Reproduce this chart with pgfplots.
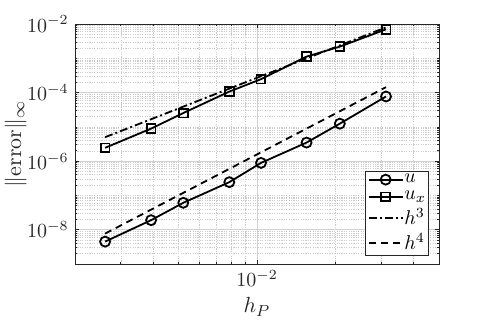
\documentclass[border=0pt]{standalone}
\usepackage{pgfplots}
\pgfplotsset{compat=1.18}
\definecolor{axgray}{RGB}{38,38,38}

\begin{document}
\begin{tikzpicture}
\begin{axis}[
  name=ax,
  xmode=log, ymode=log,
  width=182pt, height=120pt, scale only axis,
  xmin=2e-3, xmax=5e-2, ymin=1e-9, ymax=1e-2,
  xtick={1e-2}, ytick={1e-8,1e-6,1e-4,1e-2},
  minor xtick={2e-3,3e-3,4e-3,5e-3,6e-3,7e-3,8e-3,9e-3,2e-2,3e-2,4e-2},
  minor ytick={2e-9,3e-9,4e-9,5e-9,6e-9,7e-9,8e-9,9e-9,
    2e-8,3e-8,4e-8,5e-8,6e-8,7e-8,8e-8,9e-8,1e-7,
    2e-7,3e-7,4e-7,5e-7,6e-7,7e-7,8e-7,9e-7,
    2e-6,3e-6,4e-6,5e-6,6e-6,7e-6,8e-6,9e-6,1e-5,
    2e-5,3e-5,4e-5,5e-5,6e-5,7e-5,8e-5,9e-5,
    2e-4,3e-4,4e-4,5e-4,6e-4,7e-4,8e-4,9e-4,1e-3,
    2e-3,3e-3,4e-3,5e-3,6e-3,7e-3,8e-3,9e-3},
  grid=both,
  major grid style={black!18, line width=0.4pt},
  minor grid style={black!20, dash pattern=on 0.6pt off 0.6pt, line width=0.3pt},
  tick align=inside, major tick length=2pt, minor tick length=1.2pt,
  axis line style={axgray, line width=0.4pt},
  every tick/.style={axgray, line width=0.35pt},
  tick label style={color=axgray, font=\fontsize{10}{12}\selectfont},
  xticklabel style={inner sep=1pt, yshift=-2pt},
  yticklabel style={inner sep=1pt, xshift=-2pt},
  xlabel={$h_P$}, ylabel={$\|\mathrm{error}\|_\infty$},
  every axis x label/.style={at={(axis description cs:0.5,-0.178)}, anchor=center,
    inner sep=0pt, color=axgray, font=\fontsize{11}{13}\selectfont},
  every axis y label/.style={at={(axis description cs:-0.163,0.5)}, anchor=center,
    inner sep=0pt, rotate=90, color=axgray, font=\fontsize{11}{13}\selectfont},
  legend cell align=left,
  legend style={at={(axis description cs:0.973,0.035)}, anchor=south east,
    draw=axgray, line width=0.4pt, font=\fontsize{10}{12}\selectfont,
    inner sep=1pt, row sep=2pt, nodes={inner sep=0.4pt}},
]
\addplot[black, line width=0.9pt, mark=o, mark size=2.5pt] coordinates {
  (2.61e-3,4.5e-9) (3.92e-3,1.9e-8) (5.21e-3,6.1e-8) (7.83e-3,2.44e-7)
  (1.036e-2,8.9e-7) (1.55e-2,3.48e-6) (2.08e-2,1.24e-5) (3.13e-2,7.7e-5)};
\addlegendentry{$u$}
\addplot[black, line width=0.9pt, mark=square, mark size=2.2pt] coordinates {
  (2.61e-3,2.45e-6) (3.92e-3,8.9e-6) (5.21e-3,2.53e-5) (7.83e-3,1.07e-4)
  (1.036e-2,2.46e-4) (1.55e-2,1.12e-3) (2.08e-2,2.19e-3) (3.13e-2,7.0e-3)};
\addlegendentry{$u_x$}
\addplot[black, line width=0.9pt, dash pattern=on 4pt off 1.5pt on 1pt off 1.5pt] coordinates {
  (2.61e-3,5.0e-6) (3.13e-2,8.0e-3)};
\addlegendentry{$h^3$}
\addplot[black, line width=0.9pt, dash pattern=on 3.5pt off 2.5pt] coordinates {
  (2.61e-3,7.7e-9) (3.13e-2,1.44e-4)};
\addlegendentry{$h^4$}
\end{axis}
\path (ax.south west) ++(-37.5pt,-29.5pt) rectangle ++(242.5pt,161.5pt);
\end{tikzpicture}
\end{document}
